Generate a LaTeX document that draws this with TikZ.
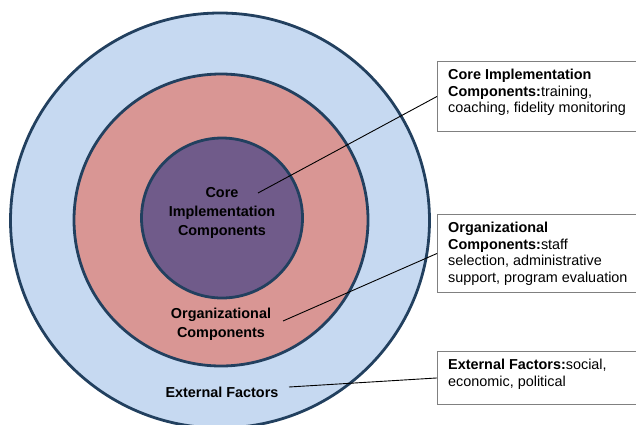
\documentclass[tikz,border=0pt]{standalone}
\usepackage{fontspec}
\setmainfont{Liberation Sans}
\usetikzlibrary{shapes.geometric}

\definecolor{outerblue}{HTML}{C6D9F1}
\definecolor{midred}{HTML}{D99694}
\definecolor{innerpurple}{HTML}{705B8A}
\definecolor{ringline}{HTML}{22405F}
\definecolor{boxline}{HTML}{808080}

\begin{document}
\begin{tikzpicture}[x=1pt,y=-1pt,
    ring/.style={ellipse,draw=ringline,line width=2.8pt,inner sep=0pt},
    ringlabel/.style={font=\bfseries\fontsize{14.4}{19}\selectfont,align=center,inner sep=0pt},
    infobox/.style={draw=boxline,line width=0.9pt,minimum width=205pt,anchor=north west,inner sep=0pt},
    infotext/.style={font=\fontsize{14.4}{16.5}\selectfont,align=left,anchor=north west,inner sep=0pt},
    leader/.style={line width=0.9pt}]
    \useasboundingbox (0,0) rectangle (636,424);
    % the three rings
    \node[ring,fill=outerblue,minimum width=419pt,minimum height=415pt] (outer) at (220,220.5) {};
    \node[ring,fill=midred,minimum width=294pt,minimum height=292pt] (middle) at (221,220) {};
    \node[ring,fill=innerpurple,minimum width=161pt,minimum height=160pt] (inner) at (222,218) {};
    \node[ringlabel] (corelbl) at (222,213) {Core\\Implementation\\Components};
    \node[ringlabel] (orglbl) at (221,324.5) {Organizational\\Components};
    \node[ringlabel] (extlbl) at (222,392) {External Factors};
    % boxes on the right
    \node[infobox,minimum height=70pt] (corebox) at (437,61) {};
    \node[infotext] (coretext) at (448,69) {\textbf{Core Implementation}\\\textbf{Components:}training,\\coaching, fidelity monitoring};
    \node[infobox,minimum height=78pt] (orgbox) at (437,214) {};
    \node[infotext] (orgtext) at (448,222) {\textbf{Organizational}\\\textbf{Components:}staff\\selection, administrative\\support, program evaluation};
    \node[infobox,minimum height=53pt] (extbox) at (437,351) {};
    \node[infotext] (exttext) at (448,359) {\textbf{External Factors:}social,\\economic, political};
    % leader lines
    \coordinate (coretip) at (258,193);
    \coordinate (orgtip) at (283,321);
    \coordinate (exttip) at (289,387);
    \draw[leader] (coretip) -- (corebox.west);
    \draw[leader] (orgtip) -- (orgbox.west);
    \draw[leader] (exttip) -- (extbox.west);
\end{tikzpicture}
\end{document}
